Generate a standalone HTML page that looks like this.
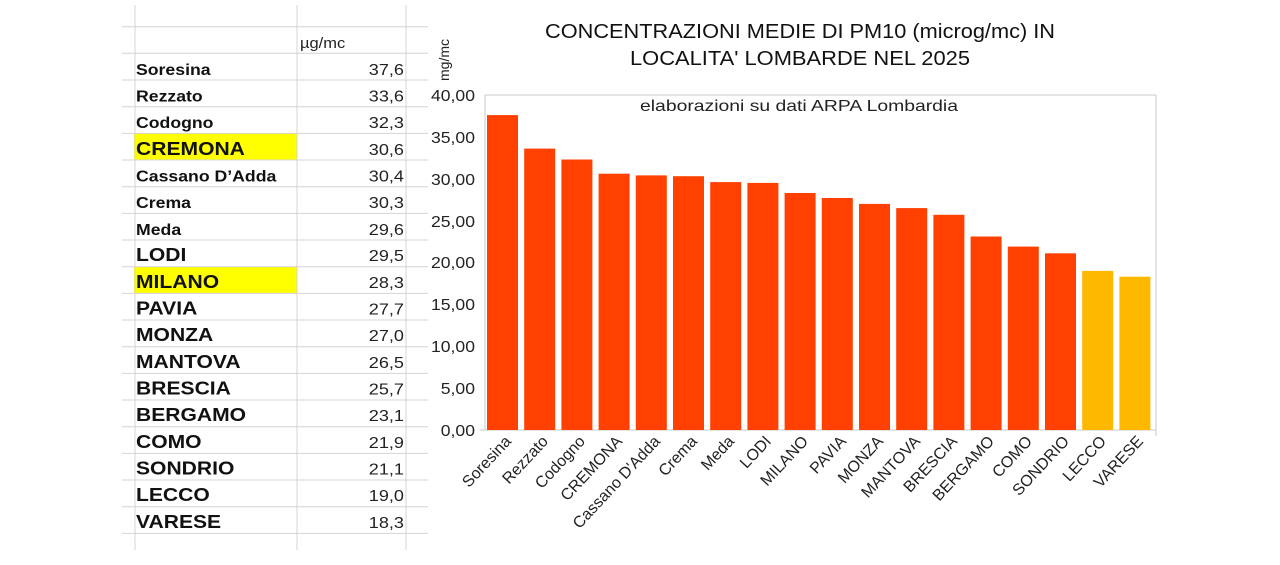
<!DOCTYPE html>
<html><head><meta charset="utf-8"><style>html,body{margin:0;padding:0;background:#fff}svg{display:block}</style></head>
<body>
<svg width="1280" height="565" xmlns="http://www.w3.org/2000/svg" font-family="Liberation Sans, Arial, sans-serif">
<rect width="1280" height="565" fill="#fff"/>
<!-- table -->
<rect x="134" y="133.4" width="163" height="26.7" fill="#ffff00"/>
<rect x="134" y="266.8" width="163" height="26.7" fill="#ffff00"/>
<g stroke="#d4d4d4" stroke-width="1">
<line x1="135" y1="5" x2="135" y2="550"/>
<line x1="297" y1="5" x2="297" y2="550"/>
<line x1="406" y1="5" x2="406" y2="550"/>
<line x1="122" y1="26.7" x2="428" y2="26.7"/>
<line x1="122" y1="53.3" x2="428" y2="53.3"/>
<line x1="122" y1="80" x2="428" y2="80"/>
<line x1="122" y1="106.7" x2="428" y2="106.7"/>
<line x1="122" y1="133.4" x2="428" y2="133.4"/>
<line x1="122" y1="160" x2="428" y2="160"/>
<line x1="122" y1="186.7" x2="428" y2="186.7"/>
<line x1="122" y1="213.4" x2="428" y2="213.4"/>
<line x1="122" y1="240" x2="428" y2="240"/>
<line x1="122" y1="266.8" x2="428" y2="266.8"/>
<line x1="122" y1="293.4" x2="428" y2="293.4"/>
<line x1="122" y1="320" x2="428" y2="320"/>
<line x1="122" y1="346.7" x2="428" y2="346.7"/>
<line x1="122" y1="373.4" x2="428" y2="373.4"/>
<line x1="122" y1="400" x2="428" y2="400"/>
<line x1="122" y1="426.7" x2="428" y2="426.7"/>
<line x1="122" y1="453.4" x2="428" y2="453.4"/>
<line x1="122" y1="480" x2="428" y2="480"/>
<line x1="122" y1="506.7" x2="428" y2="506.7"/>
<line x1="122" y1="533.4" x2="428" y2="533.4"/>
</g>
<text x="300" y="48" font-size="15" fill="#222" transform="translate(300,0) scale(1.1,1) translate(-300,0)">µg/mc</text>
<g font-weight="bold" fill="#111" font-size="15.5" transform="translate(136,0) scale(1.14,1) translate(-136,0)">
<text x="136" y="75">Soresina</text>
<text x="136" y="101.5">Rezzato</text>
<text x="136" y="128">Codogno</text>
<text x="136" y="155" font-size="18.5">CREMONA</text>
<text x="136" y="181.5">Cassano D’Adda</text>
<text x="136" y="208">Crema</text>
<text x="136" y="235">Meda</text>
<text x="136" y="261" font-size="18.5">LODI</text>
<text x="136" y="288" font-size="18.5">MILANO</text>
<text x="136" y="314.5" font-size="18.5">PAVIA</text>
<text x="136" y="341" font-size="18.5">MONZA</text>
<text x="136" y="368" font-size="18.5">MANTOVA</text>
<text x="136" y="394.5" font-size="18.5">BRESCIA</text>
<text x="136" y="421" font-size="18.5">BERGAMO</text>
<text x="136" y="448" font-size="18.5">COMO</text>
<text x="136" y="474.5" font-size="18.5">SONDRIO</text>
<text x="136" y="501" font-size="18.5">LECCO</text>
<text x="136" y="528" font-size="18.5">VARESE</text>
</g>
<g fill="#222" font-size="16" text-anchor="end" transform="translate(404,0) scale(1.13,1) translate(-404,0)">
<text x="404" y="75">37,6</text><text x="404" y="101.5">33,6</text><text x="404" y="128">32,3</text>
<text x="404" y="155">30,6</text><text x="404" y="181.5">30,4</text><text x="404" y="208">30,3</text>
<text x="404" y="235">29,6</text><text x="404" y="261">29,5</text><text x="404" y="288">28,3</text>
<text x="404" y="314.5">27,7</text><text x="404" y="341">27,0</text><text x="404" y="368">26,5</text>
<text x="404" y="394.5">25,7</text><text x="404" y="421">23,1</text><text x="404" y="448">21,9</text>
<text x="404" y="474.5">21,1</text><text x="404" y="501">19,0</text><text x="404" y="528">18,3</text>
</g>
<!-- chart -->
<text x="545" y="38" font-size="20" fill="#111" textLength="510" lengthAdjust="spacingAndGlyphs">CONCENTRAZIONI MEDIE DI PM10 (microg/mc) IN</text>
<text x="630" y="65" font-size="20" fill="#111" textLength="340" lengthAdjust="spacingAndGlyphs">LOCALITA' LOMBARDE NEL 2025</text>
<text x="449" y="60" font-size="14" text-anchor="middle" fill="#222" transform="rotate(-90 449 60)">mg/mc</text>
<g stroke="#c8c8c8" stroke-width="1">
<line x1="485" y1="95" x2="1156" y2="95"/>
<line x1="1156" y1="95" x2="1156" y2="436"/>
<line x1="485" y1="95" x2="485" y2="430"/>
<line x1="480" y1="430" x2="1156" y2="430"/>
</g>
<g fill="#222" font-size="16" text-anchor="end" transform="translate(475,0) scale(1.1,1) translate(-475,0)">
<text x="475" y="101">40,00</text><text x="475" y="143">35,00</text><text x="475" y="185">30,00</text>
<text x="475" y="227">25,00</text><text x="475" y="268">20,00</text><text x="475" y="310">15,00</text>
<text x="475" y="352">10,00</text><text x="475" y="394">5,00</text><text x="475" y="436">0,00</text>
</g>
<text x="640" y="111" font-size="16" fill="#222" textLength="318" lengthAdjust="spacingAndGlyphs">elaborazioni su dati ARPA Lombardia</text>
<g fill="#ff4000">
<rect x="487" y="115.1" width="31" height="314.9"/>
<rect x="524.2" y="148.6" width="31" height="281.4"/>
<rect x="561.4" y="159.5" width="31" height="270.5"/>
<rect x="598.6" y="173.7" width="31" height="256.3"/>
<rect x="635.8" y="175.4" width="31" height="254.6"/>
<rect x="673" y="176.2" width="31" height="253.8"/>
<rect x="710.2" y="182.1" width="31" height="247.9"/>
<rect x="747.4" y="182.9" width="31" height="247.1"/>
<rect x="784.6" y="193" width="31" height="237"/>
<rect x="821.8" y="198" width="31" height="232"/>
<rect x="859" y="203.9" width="31" height="226.1"/>
<rect x="896.2" y="208.1" width="31" height="221.9"/>
<rect x="933.4" y="214.8" width="31" height="215.2"/>
<rect x="970.6" y="236.5" width="31" height="193.5"/>
<rect x="1007.8" y="246.6" width="31" height="183.4"/>
<rect x="1045" y="253.3" width="31" height="176.7"/>
</g>
<g fill="#ffb800">
<rect x="1082.2" y="270.9" width="31" height="159.1"/>
<rect x="1119.4" y="276.7" width="31" height="153.3"/>
</g>
<g fill="#222" font-size="16" text-anchor="end">
<text transform="translate(512,442) rotate(-47)">Soresina</text>
<text transform="translate(549,442) rotate(-47)">Rezzato</text>
<text transform="translate(586,442) rotate(-47)">Codogno</text>
<text transform="translate(623,442) rotate(-47)">CREMONA</text>
<text transform="translate(661,442) rotate(-47)">Cassano D'Adda</text>
<text transform="translate(698,442) rotate(-47)">Crema</text>
<text transform="translate(735,442) rotate(-47)">Meda</text>
<text transform="translate(772,442) rotate(-47)">LODI</text>
<text transform="translate(809,442) rotate(-47)">MILANO</text>
<text transform="translate(847,442) rotate(-47)">PAVIA</text>
<text transform="translate(884,442) rotate(-47)">MONZA</text>
<text transform="translate(921,442) rotate(-47)">MANTOVA</text>
<text transform="translate(958,442) rotate(-47)">BRESCIA</text>
<text transform="translate(995,442) rotate(-47)">BERGAMO</text>
<text transform="translate(1033,442) rotate(-47)">COMO</text>
<text transform="translate(1070,442) rotate(-47)">SONDRIO</text>
<text transform="translate(1107,442) rotate(-47)">LECCO</text>
<text transform="translate(1144,442) rotate(-47)">VARESE</text>
</g>
</svg>
</body></html>
